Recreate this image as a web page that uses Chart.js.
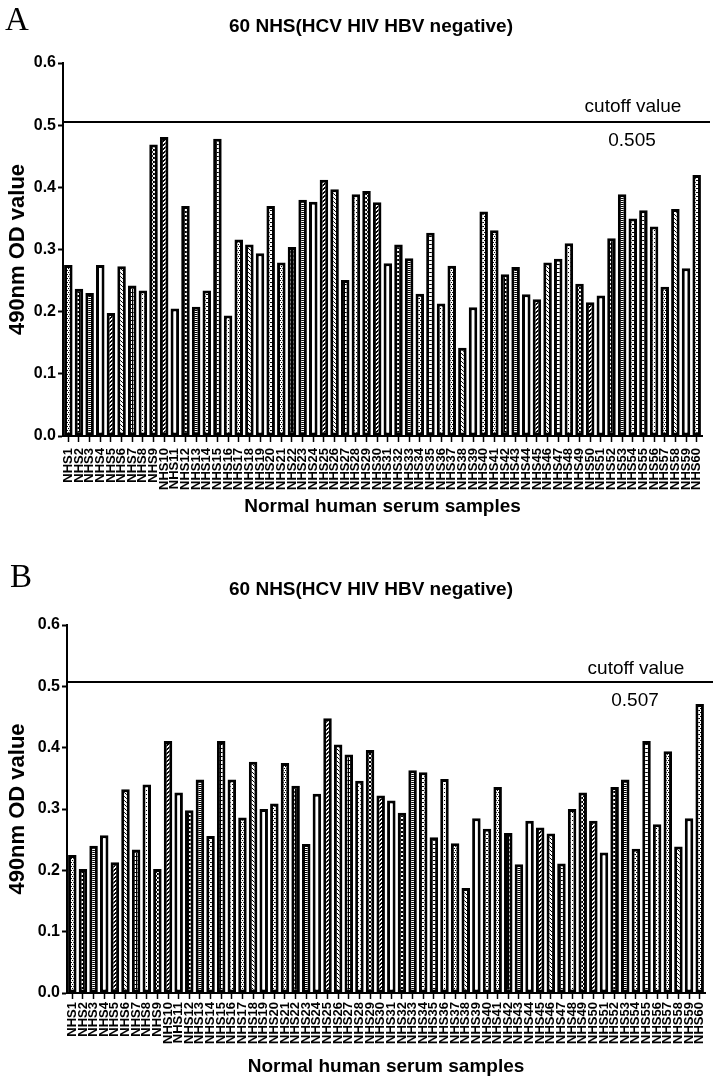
<!DOCTYPE html>
<html>
<head>
<meta charset="utf-8">
<script src="https://cdn.jsdelivr.net/npm/chart.js@4.4.1/dist/chart.umd.min.js"></script>
<style>
  body { margin: 0; background: #fff; }
  canvas { display: block; }
</style>
</head>
<body>
<canvas id="chartA" width="720" height="540"></canvas>
<canvas id="chartB" width="720" height="541"></canvas>
<script>
// Dados
var categories = ['NHS1','NHS2','NHS3','NHS4','NHS5','NHS6','NHS7','NHS8','NHS9','NHS10',
  'NHS11','NHS12','NHS13','NHS14','NHS15','NHS16','NHS17','NHS18','NHS19','NHS20',
  'NHS21','NHS22','NHS23','NHS24','NHS25','NHS26','NHS27','NHS28','NHS29','NHS30',
  'NHS31','NHS32','NHS33','NHS34','NHS35','NHS36','NHS37','NHS38','NHS39','NHS40',
  'NHS41','NHS42','NHS43','NHS44','NHS45','NHS46','NHS47','NHS48','NHS49','NHS50',
  'NHS51','NHS52','NHS53','NHS54','NHS55','NHS56','NHS57','NHS58','NHS59','NHS60'];

var valuesA = [0.275,0.237,0.230,0.275,0.198,0.273,0.242,0.234,0.469,0.481,
  0.205,0.370,0.208,0.234,0.478,0.194,0.316,0.308,0.294,0.370,
  0.279,0.304,0.380,0.377,0.412,0.397,0.251,0.389,0.394,0.376,
  0.278,0.308,0.286,0.229,0.327,0.213,0.274,0.142,0.207,0.361,
  0.331,0.260,0.272,0.228,0.220,0.279,0.285,0.310,0.245,0.215,
  0.226,0.318,0.389,0.350,0.363,0.337,0.240,0.365,0.270,0.420];

var valuesB = [0.225,0.202,0.240,0.257,0.213,0.332,0.234,0.340,0.202,0.411,
  0.327,0.298,0.348,0.256,0.411,0.348,0.286,0.377,0.300,0.309,
  0.375,0.338,0.243,0.325,0.448,0.405,0.389,0.346,0.396,0.322,
  0.314,0.294,0.363,0.360,0.254,0.349,0.244,0.171,0.285,0.268,
  0.336,0.261,0.210,0.281,0.270,0.260,0.211,0.300,0.327,0.281,
  0.229,0.336,0.348,0.235,0.411,0.275,0.394,0.239,0.285,0.471];

var cutoffA = 0.505;
var cutoffB = 0.507;
var yTickValues = [0, 0.1, 0.2, 0.3, 0.4, 0.5, 0.6];

var chartTitle = '60 NHS(HCV HIV HBV negative)';
var yTitle = '490nm OD value';
var xTitle = 'Normal human serum samples';

var SANS = '"Liberation Sans", Arial, sans-serif';

// Padrões de preenchimento (estilo Prism)
function makePattern(kind) {
  var c = document.createElement('canvas');
  c.width = 4; c.height = 4;
  var g = c.getContext('2d');
  g.fillStyle = '#fff'; g.fillRect(0, 0, 4, 4);
  g.fillStyle = '#000';
  var i;
  switch (kind) {
    case 'dots': g.fillRect(0, 0, 1, 1); g.fillRect(2, 2, 1, 1); break;
    case 'squares': g.fillRect(0, 0, 4, 4); g.fillStyle = '#fff'; g.fillRect(1, 1, 2, 2); break;
    case 'hline': g.fillRect(0, 0, 4, 1); g.fillRect(0, 2, 4, 1); break;
    case 'vline': g.fillRect(0, 0, 1, 4); break;
    case 'diagR': for (i = 0; i < 4; i++) { g.fillRect(i, 3 - i, 1, 1); g.fillRect((i + 1) % 4, 3 - i, 1, 1); } break;
    case 'diagL': for (i = 0; i < 4; i++) g.fillRect(i, i, 1, 1); break;
    case 'grid': g.fillRect(0, 0, 4, 1); g.fillRect(0, 0, 1, 4); break;
    case 'checker': g.fillRect(0, 0, 1, 1); g.fillRect(2, 0, 1, 1); g.fillRect(1, 2, 1, 1); g.fillRect(3, 2, 1, 1); break;
    case 'cross': for (i = 0; i < 4; i++) { g.fillRect(i, i, 1, 1); g.fillRect(i, 3 - i, 1, 1); } break;
    case 'dash': g.fillRect(0, 0, 2, 1); g.fillRect(2, 2, 2, 1); break;
    default: break;
  }
  return g.createPattern(c, 'repeat');
}

var patternKinds = ['checker','squares','hline','blank','diagR','diagL','grid','dots','cross','diagR',
  'blank','squares','hline','dash','grid','dots','checker','diagL','blank','dash'];
var patterns = patternKinds.map(makePattern);
function fills(n) {
  var out = [];
  for (var i = 0; i < n; i++) out.push(patterns[i % patterns.length]);
  return out;
}

// Linha de cutoff, letras e título
var panelDecor = {
  id: 'panelDecor',
  afterDraw: function(chart, args, o) {
    var ctx = chart.ctx, area = chart.chartArea;
    var y = chart.scales.y.getPixelForValue(o.cutoff);
    ctx.save();
    ctx.strokeStyle = '#000';
    ctx.lineWidth = 2;
    ctx.beginPath();
    ctx.moveTo(area.left, y);
    ctx.lineTo(area.right + 8, y);
    ctx.stroke();

    ctx.fillStyle = '#000';
    ctx.font = '19px ' + SANS;
    ctx.textAlign = 'center';
    ctx.textBaseline = 'alphabetic';
    ctx.fillText('cutoff value', area.right - 69, y - o.labelGap);
    ctx.fillText(o.cutoff.toFixed(3), area.right - 70, y + 24);

    ctx.font = '33px "Liberation Serif", "Times New Roman", serif';
    ctx.textAlign = 'left';
    ctx.fillText(o.letter, o.letterX, o.letterY);

    ctx.font = 'bold 19px ' + SANS;
    ctx.textAlign = 'center';
    ctx.textBaseline = 'middle';
    ctx.fillText(chartTitle, 371, o.titleY);
    ctx.restore();
  }
};

function makeChart(id, values, cutoff, p) {
  var ctx = document.getElementById(id).getContext('2d');
  return new Chart(ctx, {
    type: 'bar',
    data: {
      labels: categories,
      datasets: [{
        label: 'OD',
        data: values,
        backgroundColor: fills(values.length),
        borderColor: '#000',
        borderWidth: 3,
        borderSkipped: false,
        barPercentage: 0.8,
        categoryPercentage: 1
      }]
    },
    options: {
      responsive: false,
      animation: false,
      layout: { padding: { top: p.top, right: p.right, left: 0, bottom: 0 } },
      plugins: {
        legend: { display: false },
        tooltip: { enabled: false },
        panelDecor: { cutoff: cutoff, letter: p.letter, letterX: p.letterX, letterY: p.letterY, titleY: p.titleY, labelGap: p.labelGap }
      },
      scales: {
        x: {
          grid: { drawOnChartArea: false, offset: false, color: '#000', tickLength: 6, tickWidth: 1.5 },
          border: { display: true, color: '#000', width: 2 },
          ticks: {
            autoSkip: false, maxRotation: 90, minRotation: 90, padding: p.xTickPad,
            color: '#000', font: { family: SANS, size: 13, weight: 'bold' }
          },
          title: {
            display: true, text: xTitle, color: '#000',
            font: { family: SANS, size: 19, weight: 'bold' },
            padding: { top: 0, bottom: p.xTitlePad }
          },
          afterFit: function(s) { s.height = p.xHeight; }
        },
        y: {
          min: 0, max: 0.6,
          afterBuildTicks: function(s) { s.ticks = yTickValues.map(function(v) { return { value: v }; }); },
          grid: { drawOnChartArea: false, color: '#000', tickLength: 5, tickWidth: 2 },
          border: { display: true, color: '#000', width: 2 },
          ticks: {
            padding: 2, color: '#000',
            font: { family: SANS, size: 16, weight: 'bold' },
            callback: function(v) { return Number(v).toFixed(1); }
          },
          title: {
            display: true, text: yTitle, color: '#000',
            font: { family: SANS, size: 22, weight: 'bold' },
            padding: { top: 5, bottom: 0 }
          },
          afterFit: function(s) { s.width = p.left; }
        }
      }
    },
    plugins: [panelDecor]
  });
}

var chartA = makeChart('chartA', valuesA, cutoffA, {
  top: 63, right: 18, left: 63, xHeight: 104, xTickPad: 6, xTitlePad: 22,
  letter: 'A', letterX: 5, letterY: 30, titleY: 27, labelGap: 10
});
var chartB = makeChart('chartB', valuesB, cutoffB, {
  top: 85, right: 15, left: 67, xHeight: 88, xTickPad: 3, xTitlePad: 3,
  letter: 'B', letterX: 10, letterY: 47, titleY: 50, labelGap: 8
});
</script>
</body>
</html>
